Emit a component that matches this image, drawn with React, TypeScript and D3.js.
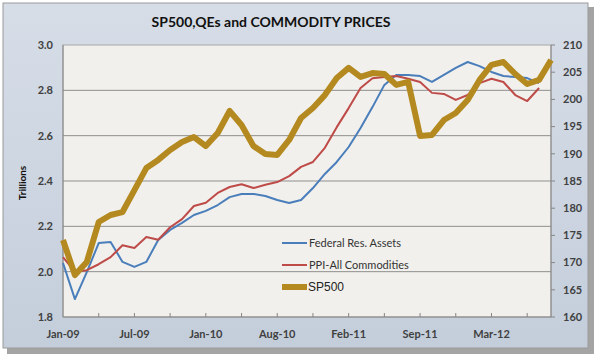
import React from "react";
import * as d3 from "d3";

const xLabels = ["Jan-09", "Jul-09", "Jan-10", "Aug-10", "Feb-11", "Sep-11", "Mar-12"];
const leftTicks = [1.8, 2.0, 2.2, 2.4, 2.6, 2.8, 3.0];
const rightTicks = [160, 165, 170, 175, 180, 185, 190, 195, 200, 205, 210];
const seriesNames = ["Federal Res. Assets", "PPI-All Commodities", "SP500"];

// Federal Reserve assets, trillions (left axis)
const fedAssets = [
  2.038, 1.879, 1.998, 2.126, 2.131, 2.043, 2.021, 2.043, 2.140, 2.184,
  2.215, 2.250, 2.268, 2.294, 2.329, 2.343, 2.343, 2.334, 2.316, 2.303,
  2.316, 2.369, 2.431, 2.484, 2.550, 2.634, 2.726, 2.824, 2.868, 2.868,
  2.863, 2.837, 2.868, 2.899, 2.925, 2.907, 2.881, 2.863, 2.859, 2.854,
  2.832,
];

// PPI - All commodities (right axis)
const ppi = [
  171.0, 168.3, 168.6, 169.7, 171.0, 173.2, 172.7, 174.7, 174.2, 176.5,
  178.0, 180.4, 181.0, 182.8, 183.9, 184.4, 183.7, 184.3, 184.8, 185.9,
  187.6, 188.5, 191.1, 194.9, 198.4, 202.1, 203.9, 204.1, 204.3, 203.8,
  203.2, 201.2, 201.0, 199.9, 200.8, 203.0, 203.8, 203.2, 200.8, 199.7,
  202.1,
];

// SP500 (scaled, left axis)
const sp500 = [
  2.140, 1.985, 2.043, 2.219, 2.250, 2.263, 2.360, 2.457, 2.493, 2.537,
  2.572, 2.594, 2.554, 2.612, 2.709, 2.647, 2.554, 2.519, 2.515, 2.581,
  2.678, 2.722, 2.779, 2.854, 2.899, 2.859, 2.876, 2.872, 2.824, 2.837,
  2.599, 2.603, 2.669, 2.700, 2.757, 2.846, 2.912, 2.925, 2.872, 2.828,
  2.846, 2.934,
];

const W = 599;
const H = 358;
const PL = 63, PR = 551, PT = 45, PB = 317;
const font = "Lato, 'Open Sans', sans-serif";

export default function App() {
  const x = d3.scaleLinear().domain([0, 41]).range([PL, PR]);
  const yL = d3.scaleLinear().domain([1.8, 3.0]).range([PB, PT]);
  const yR = d3.scaleLinear().domain([160, 210]).range([PB, PT]);

  const lineL = d3.line<number>().x((_, i) => x(i)).y((d) => yL(d));
  const lineR = d3.line<number>().x((_, i) => x(i)).y((d) => yR(d));

  const tickIdx = d3.range(3, 40, 3);
  const labelIdx = xLabels.map((_, k) => k * 6);

  return (
    <svg width={W} height={H} style={{ position: "absolute", left: 0, top: 0 }}>
      <defs>
        <linearGradient id="bg" x1="0" y1="0" x2="0" y2="1">
          <stop offset="0" stopColor="#d6dde7" />
          <stop offset="1" stopColor="#c4cedb" />
        </linearGradient>
      </defs>
      <rect x={0} y={0} width={W} height={H} fill="#ffffff" />
      {/* shadow */}
      <rect x={7} y={7} width={587} height={347} fill="#5a5a5a" opacity={0.55} />
      <rect x={3} y={3} width={585} height={345} fill="url(#bg)" stroke="#9a9a9a" strokeWidth={1} />

      {/* title */}
      <text x={271} y={27} textAnchor="middle" fontFamily={font} fontWeight="bold" fontSize={14} fill="#111">
        SP500,QEs and COMMODITY PRICES
      </text>

      {/* plot area */}
      <rect x={PL} y={PT} width={PR - PL} height={PB - PT} fill="#f1f0ec" stroke="#a8a8a8" strokeWidth={1} />

      {/* gridlines */}
      {leftTicks.slice(1, -1).map((t) => (
        <line key={t} x1={PL} x2={PR} y1={yL(t)} y2={yL(t)} stroke="#8f8f8f" strokeWidth={1} />
      ))}

      {/* axes lines */}
      <line x1={PL} x2={PL} y1={PT} y2={PB} stroke="#868686" />
      <line x1={PL} x2={PR} y1={PB} y2={PB} stroke="#868686" />
      <line x1={PR} x2={PR} y1={PT} y2={PB} stroke="#868686" />

      {/* x ticks */}
      {tickIdx.map((i) => (
        <line key={i} x1={x(i)} x2={x(i)} y1={PB} y2={PB - 4} stroke="#868686" />
      ))}
      {/* right ticks */}
      {rightTicks.map((t) => (
        <line key={t} x1={PR} x2={PR + 4} y1={yR(t)} y2={yR(t)} stroke="#868686" />
      ))}

      {/* left tick labels */}
      {leftTicks.map((t) => (
        <text key={t} x={53} y={yL(t)} dy="0.35em" textAnchor="end" fontFamily={font} fontWeight="bold" fontSize={11} fill="#404040">
          {t.toFixed(1)}
        </text>
      ))}
      {/* right tick labels */}
      {rightTicks.map((t) => (
        <text key={t} x={563} y={yR(t)} dy="0.35em" textAnchor="start" fontFamily={font} fontWeight="bold" fontSize={11} fill="#404040">
          {t}
        </text>
      ))}
      {/* x labels */}
      {labelIdx.map((i, k) => (
        <text key={i} x={x(i)} y={338} textAnchor="middle" fontFamily={font} fontWeight="bold" fontSize={11} fill="#404040">
          {xLabels[k]}
        </text>
      ))}

      {/* y axis title */}
      <text transform="translate(26,183) rotate(-90)" textAnchor="middle" fontFamily={font} fontWeight="bold" fontSize={10} fill="#111">
        Trillions
      </text>

      {/* series */}
      <path d={lineL(fedAssets) || ""} fill="none" stroke="#4a7ebb" strokeWidth={2} strokeLinejoin="round" />
      <path d={lineR(ppi) || ""} fill="none" stroke="#be4b48" strokeWidth={2} strokeLinejoin="round" />
      <path d={lineL(sp500) || ""} fill="none" stroke="#b48a20" strokeWidth={6} strokeLinejoin="round" strokeLinecap="butt" />

      {/* legend */}
      <line x1={282} x2={307} y1={243} y2={243} stroke="#4a7ebb" strokeWidth={2} />
      <text x={309} y={247} fontFamily={font} fontSize={11} fill="#333">{seriesNames[0]}</text>
      <line x1={282} x2={307} y1={265} y2={265} stroke="#be4b48" strokeWidth={2} />
      <text x={309} y={269} fontFamily={font} fontSize={11} fill="#333">{seriesNames[1]}</text>
      <rect x={282} y={284} width={25} height={6} fill="#b48a20" />
      <text x={308} y={291} fontFamily="'Liberation Sans', Arial, sans-serif" fontSize={12} fill="#222">{seriesNames[2]}</text>
    </svg>
  );
}
